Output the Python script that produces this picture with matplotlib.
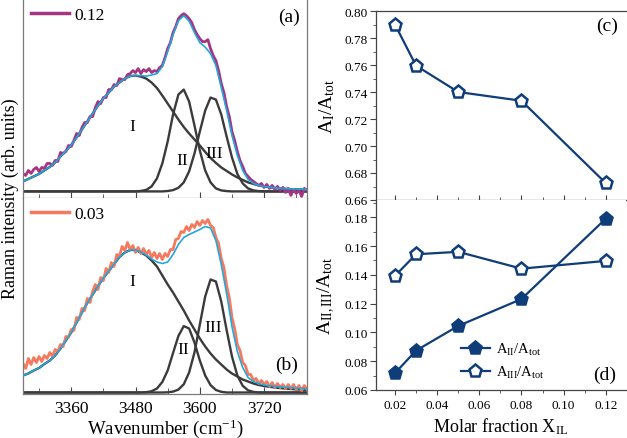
import numpy as np
import matplotlib
matplotlib.use('Agg')
import matplotlib.pyplot as plt
from matplotlib.ticker import MultipleLocator

plt.rcParams['font.family'] = ['Liberation Serif', 'DejaVu Serif']
plt.rcParams['mathtext.fontset'] = 'custom'
plt.rcParams['mathtext.rm'] = 'Liberation Serif'
plt.rcParams['mathtext.it'] = 'Liberation Serif:italic'
plt.rcParams['mathtext.bf'] = 'Liberation Serif:bold'

# ---------------- spectra ----------------
wn_fit = np.arange(3270, 3801, 10)   # grid of the fit / component curves
wn_raw = np.arange(3270, 3801, 5)    # grid of the measured spectra

# panel (a), X_IL = 0.12
raw_a = [18, 16, 21, 18, 22, 24, 20, 24, 23, 28,
         28, 26, 31, 30, 39, 38, 40, 46, 45, 51,
         58, 56, 64, 69, 69, 75, 75, 84, 90, 88,
         94, 94, 102, 102, 107, 106, 113, 112, 112, 117,
         118, 121, 119, 123, 118, 122, 120, 123, 119, 121,
         120, 124, 126, 134, 143, 149, 159, 165, 173, 176,
         178, 176, 173, 169, 162, 157, 153, 150, 150, 152,
         143, 136, 131, 121, 108, 99, 85, 75, 60, 51,
         40, 31, 25, 18, 15, 12, 10, 8, 6, 8,
         4, 7, 3, 6, 2, 5, 1, 4, -1, 3,
         -4, 2, -2, 1, -5, 3, 1]
fit_a = [10, 12.5, 15, 17.5, 21, 24.5, 29, 35, 40.5, 46.5,
         54, 62, 70, 78, 86, 93, 99, 105, 109, 113,
         115.5, 116, 116, 115.5, 116.5, 118, 125, 140, 157, 171,
         176, 170.5, 159, 149, 144.5, 138, 126, 104, 81, 56,
         36, 21, 12, 8, 6, 5, 4.2, 3.5, 3.1, 2.8,
         2.5, 2.3, 2.1, 1.9]
peak1_a = [10, 12.5, 15, 17.5, 21, 24.5, 29, 35, 40.5, 46.5,
           54, 62, 70, 78, 86, 93, 99, 105, 109, 113,
           115.5, 116, 115, 113, 109, 103.5, 96, 88, 80, 72,
           64.5, 58, 52, 46, 39.5, 33.5, 28.5, 24, 20.5, 17,
           14, 11.5, 9, 7.5, 6, 5, 4.2, 3.5, 2.9, 2.6,
           2.3, 2.1, 1.9, 1.7]
peak2_a = [0, 0, 0, 0, 0, 0, 0, 0, 0, 0,
           0, 0, 0, 0, 0, 0, 0, 0, 0, 0,
           0, 0, 0.5, 1.5, 5, 13, 28, 50, 77, 97,
           102, 90, 66, 41, 21, 9, 3, 1, 0.3, 0,
           0, 0, 0, 0, 0, 0, 0, 0, 0, 0,
           0, 0, 0, 0]
peak3_a = [0, 0, 0, 0, 0, 0, 0, 0, 0, 0,
           0, 0, 0, 0, 0, 0, 0, 0, 0, 0,
           0, 0, 0, 0, 0, 0, 0, 0.4, 1.3, 3.6,
           9, 20, 38, 60, 81, 94, 92, 77, 55, 34,
           17.5, 8, 3, 1, 0.3, 0, 0, 0, 0, 0,
           0, 0, 0, 0]

# panel (b), X_IL = 0.03
raw_b = [29, 24, 34, 28, 35, 30, 36, 31, 37, 34,
         40, 36, 43, 41, 48, 46, 56, 55, 63, 62,
         75, 73, 84, 82, 94, 90, 101, 108, 103, 115,
         112, 124, 120, 130, 126, 138, 136, 146, 142, 150,
         143, 147, 140, 145, 139, 144, 138, 142, 135, 140,
         134, 139, 133, 139, 136, 143, 143, 153, 154, 161,
         160, 166, 162, 168, 165, 171, 167, 172, 169, 173,
         167, 165, 155, 149, 134, 125, 107, 95, 75, 64,
         48, 42, 30, 27, 18, 18, 12, 14, 9, 12,
         8, 11, 6, 10, 5, 9, 5, 8, 4, 8,
         4, 8, 3, 7, 2, 7, 3]
fit_b = [17, 19, 22, 24.5, 28.5, 32, 37, 44, 52, 60,
         70, 80, 89.5, 98, 106.5, 114.5, 121.5, 128.5, 135.5, 140,
         142.5, 142.5, 140.5, 137.5, 133.5, 130.5, 129, 130.5, 138, 148,
         155, 158, 160.5, 163, 166, 164.5, 152, 128, 99, 66,
         41, 25, 15, 11, 9, 7.5, 6.8, 6.2, 5.7, 5.2,
         4.8, 4.4, 4, 3.6]
peak1_b = [17, 19, 22, 24.5, 28.5, 32, 37, 44, 52, 60,
           70, 80, 89.5, 98, 106.5, 114.5, 121.5, 128.5, 135.5, 140,
           142.5, 142.5, 140, 137, 132, 126, 117, 108, 100, 91,
           82, 72, 63, 54, 46, 39, 33, 28, 23, 19,
           16, 13, 11, 9, 7.5, 6.5, 5.7, 5, 4.4, 3.9,
           3.5, 3.1, 2.8, 2.5]
peak2_b = [0, 0, 0, 0, 0, 0, 0, 0, 0, 0,
           0, 0, 0, 0, 0, 0, 0, 0, 0, 0,
           0, 0, 0, 0.3, 1.3, 4, 10.5, 22, 39.5, 56.5,
           66.4, 64, 50, 32, 17, 7.4, 2.5, 0.7, 0, 0,
           0, 0, 0, 0, 0, 0, 0, 0, 0, 0,
           0, 0, 0, 0]
peak3_b = [0, 0, 0, 0, 0, 0, 0, 0, 0, 0,
           0, 0, 0, 0, 0, 0, 0, 0, 0, 0,
           0, 0, 0, 0, 0, 0, 0, 0.2, 0.9, 2.9,
           8.2, 20, 40, 68, 96, 113, 111, 91, 62.5, 36,
           17, 6.7, 2.2, 0.6, 0, 0, 0, 0, 0, 0,
           0, 0, 0, 0]

# ---------------- area fractions ----------------
x_il = [0.02, 0.03, 0.05, 0.08, 0.12]
frac_I = [0.790, 0.7595, 0.740, 0.7335, 0.6725]
frac_II = [0.0717, 0.0874, 0.1045, 0.1232, 0.1790]
frac_III = [0.1393, 0.1543, 0.1560, 0.1443, 0.1497]

wn_ticks = [3360, 3480, 3600, 3720]

c_raw_a = '#a53582'
c_raw_b = '#f6795d'
c_fit = '#23a6dc'
c_comp = '#3b3b3b'
navy = '#0f3d7a'

W, H = 627, 439
fig = plt.figure(figsize=(W / 100, H / 100), dpi=100)
ax_a = fig.add_axes([23 / W, 1 - 199 / H, 284 / W, 199 / H])
ax_b = fig.add_axes([23 / W, 1 - 395 / H, 284 / W, 196 / H])
ax_c = fig.add_axes([376 / W, 1 - 201 / H, 250 / W, 189 / H])
ax_d = fig.add_axes([376 / W, 1 - 391 / H, 250 / W, 190 / H])


def spectrum(ax, raw, fit, p1, p2, p3, col, lab):
    for p in (p1, p2, p3):
        ax.plot(wn_fit, p, color=c_comp, lw=1.7, zorder=1)
    ax.plot(wn_raw, raw, color=col, lw=2.0, label=lab, zorder=2)
    ax.plot(wn_fit, fit, color=c_fit, lw=1.2, zorder=3)
    ax.set_xlim(3270, 3800)
    ax.set_yticks([])
    ax.xaxis.set_minor_locator(MultipleLocator(60))
    ax.set_xticks(wn_ticks)
    ax.spines['top'].set_visible(False)
    for s in ('left', 'right', 'bottom'):
        ax.spines[s].set_color('#7a7a7a')
        ax.spines[s].set_linewidth(0.9)
    leg = ax.legend(loc='upper left', frameon=False, fontsize=12.5, handlelength=2.2,
                    handletextpad=0.3, borderaxespad=0.15, borderpad=0.3)
    for ln in leg.get_lines():
        ln.set_linewidth(2.5)


spectrum(ax_a, raw_a, fit_a, peak1_a, peak2_a, peak3_a, c_raw_a, '0.12')
ax_a.set_ylim(-6.6, 192.7)
ax_a.tick_params(axis='x', which='both', direction='inout', labelbottom=False,
                 length=8, color='#444444')
ax_a.tick_params(axis='x', which='minor', length=6)
ax_a.text(3474, 66, 'I', fontsize=12.5, ha='center', va='center')
ax_a.text(3568, 31, 'II', fontsize=12.5, ha='center', va='center')
ax_a.text(3627, 38, 'III', fontsize=12.5, ha='center', va='center')
ax_a.text(0.937, 0.915, '(a)', transform=ax_a.transAxes, fontsize=14,
          ha='center', va='center')

spectrum(ax_b, raw_b, fit_b, peak1_b, peak2_b, peak3_b, c_raw_b, '0.03')
ax_b.set_ylim(-1.5, 194.5)
ax_b.tick_params(axis='x', which='both', direction='in', labelsize=12.5,
                 length=5, color='#444444', pad=4)
ax_b.tick_params(axis='x', which='minor', length=4)
ax_b.set_xlabel('Wavenumber (cm$^{-1}$)', fontsize=13.5, labelpad=1)
ax_b.text(3474, 112, 'I', fontsize=12.5, ha='center', va='center')
ax_b.text(3569, 43.5, 'II', fontsize=12.5, ha='center', va='center')
ax_b.text(3624, 65, 'III', fontsize=12.5, ha='center', va='center')
ax_b.text(0.928, 0.153, '(b)', transform=ax_b.transAxes, fontsize=14,
          ha='center', va='center')

fig.text(10 / W, 1 - 198.5 / H, 'Raman intensity (arb. units)', rotation=90,
         fontsize=13, ha='center', va='center')

# ---------------- right column ----------------
for ax in (ax_c, ax_d):
    ax.set_xlim(0.011, 0.1296)
    ax.xaxis.set_major_locator(MultipleLocator(0.02))
    ax.xaxis.set_minor_locator(MultipleLocator(0.01))
    ax.yaxis.set_major_locator(MultipleLocator(0.02))
    ax.yaxis.set_minor_locator(MultipleLocator(0.01))
    ax.spines['right'].set_visible(False)
    for s in ('left', 'top', 'bottom'):
        ax.spines[s].set_color('#444444')
        ax.spines[s].set_linewidth(0.9)
    ax.tick_params(axis='y', which='major', direction='out', length=4, labelsize=9.5,
                   color='#444444', pad=2)
    ax.tick_params(axis='y', which='minor', direction='out', length=2.5, color='#444444')

ax_c.plot(x_il, frac_I, color=navy, lw=1.6, marker='p', ms=9.5,
          mfc='white', mec=navy, mew=1.8)
ax_c.set_ylim(0.66, 0.80)
ax_c.yaxis.set_major_formatter(plt.FormatStrFormatter('%.2f'))
ax_c.tick_params(axis='x', which='major', direction='inout', length=7,
                 labelbottom=False, color='#444444')
ax_c.tick_params(axis='x', which='minor', direction='inout', length=4, color='#444444')
ax_c.set_ylabel(r'$\mathrm{A_{I}/A_{tot}}$', fontsize=14, labelpad=5)
ax_c.text(0.925, 0.922, '(c)', transform=ax_c.transAxes, fontsize=14,
          ha='center', va='center')

ax_d.spines['top'].set_visible(False)
ax_d.plot(x_il, frac_II, color=navy, lw=1.6, marker='p', ms=9.5,
          mfc=navy, mec=navy, mew=1.8, label=r'$\mathrm{A_{II}/A_{tot}}$')
ax_d.plot(x_il, frac_III, color=navy, lw=1.6, marker='p', ms=9.5,
          mfc='white', mec=navy, mew=1.8, label=r'$\mathrm{A_{III}/A_{tot}}$')
ax_d.set_ylim(0.06, 0.192)
ax_d.yaxis.set_major_formatter(plt.FormatStrFormatter('%.2f'))
ax_d.tick_params(axis='x', which='major', direction='out', length=3.5,
                 labelsize=9.5, color='#444444', pad=3)
ax_d.tick_params(axis='x', which='minor', direction='out', length=2, color='#444444')
ax_d.xaxis.set_major_formatter(plt.FormatStrFormatter('%.2f'))
ax_d.set_ylabel(r'$\mathrm{A_{II,III}/A_{tot}}$', fontsize=14, labelpad=5)
ax_d.set_xlabel(r'Molar fraction X$_{\mathrm{IL}}$', fontsize=13, labelpad=3)
ax_d.legend(loc='center left', bbox_to_anchor=(0.31, 0.155), frameon=False,
            fontsize=10.5, handlelength=2.0, handletextpad=0.4, labelspacing=0.5,
            borderpad=0)
ax_d.text(0.916, 0.084, '(d)', transform=ax_d.transAxes, fontsize=14,
          ha='center', va='center')

fig.savefig('out.png', dpi=100)
